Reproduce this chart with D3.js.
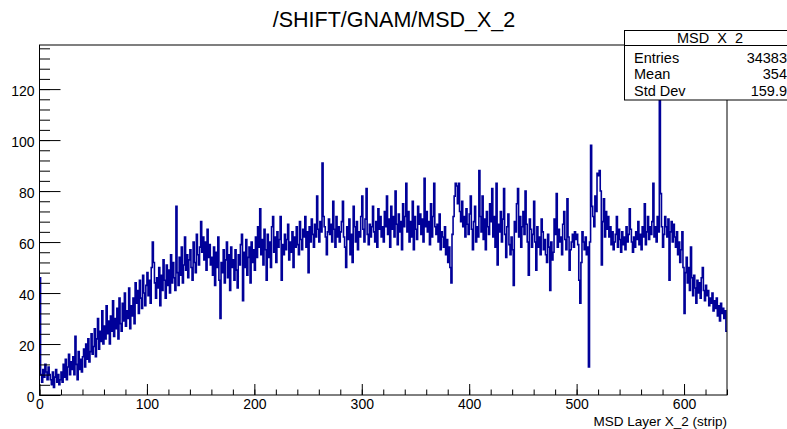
<!DOCTYPE html>
<html>
<head>
<meta charset="utf-8">
<script src="https://cdn.jsdelivr.net/npm/d3@7"></script>
<style>
  body { margin: 0; background: #fff; }
  svg { display: block; font-family: "Liberation Sans", Arial, Helvetica, sans-serif; }
</style>
</head>
<body>
<svg width="787" height="429"></svg>
<script>
// histogram title + axis
const histTitle = "/SHIFT/GNAM/MSD_X_2";
const xTitle = "MSD Layer X_2 (strip)";

// 640 strips, counts per strip
const counts = [
  46, 8, 5, 10, 7, 12, 9, 6, 11, 8,
  6, 4, 9, 3, 7, 10, 5, 8, 4, 6,
  9, 5, 12, 7, 14, 6, 11, 16, 8, 13,
  10, 15, 8, 23, 12, 6, 17, 10, 14, 9,
  15, 18, 11, 20, 14, 22, 13, 17, 24, 16,
  19, 26, 15, 22, 30, 18, 25, 21, 33, 20,
  27, 22, 35, 24, 29, 20, 31, 25, 37, 23,
  30, 26, 34, 22, 38, 28, 25, 36, 29, 40,
  27, 33, 30, 42, 26, 35, 31, 38, 28, 44,
  36, 41, 32, 45, 38, 34, 47, 40, 35, 43,
  48, 39, 45, 36, 50, 60, 52, 44, 38, 46,
  42, 50, 35, 47, 41, 53, 45, 38, 51, 43,
  49, 40, 55, 44, 52, 46, 41, 74, 48, 43,
  54, 47, 58, 44, 51, 62, 49, 55, 46, 53,
  57, 50, 45, 60, 52, 48, 63, 55, 51, 58,
  68, 56, 62, 53, 60, 49, 65, 54, 59, 51,
  54, 47, 58, 43, 56, 50, 62, 45, 30, 52,
  48, 57, 44, 53, 60, 46, 55, 41, 58, 50,
  53, 45, 57, 49, 42, 55, 51, 59, 63, 37,
  56, 50, 61, 47, 54, 58, 44, 60, 52, 57,
  49, 62, 54, 66, 58, 73, 55, 61, 51, 65,
  57, 45, 63, 54, 60, 50, 66, 70, 56, 62,
  52, 64, 58, 61, 70, 45, 59, 55, 63, 57,
  61, 67, 53, 60, 56, 64, 50, 62, 58, 66,
  59, 55, 68, 61, 57, 65, 62, 70, 58, 64,
  48, 66, 60, 69, 63, 58, 67, 62, 78, 65,
  60, 68, 64, 91, 70, 66, 62, 55, 64, 69,
  63, 67, 60, 76, 65, 58, 70, 62, 66, 60,
  64, 68, 76, 62, 58, 50, 66, 61, 69, 55,
  63, 52, 74, 66, 60, 68, 57, 64, 62, 70,
  78, 65, 60, 69, 81, 63, 59, 67, 62, 66,
  74, 64, 60, 68, 58, 73, 65, 70, 62, 66,
  60, 72, 66, 78, 63, 69, 58, 74, 65, 70,
  62, 80, 67, 59, 71, 64, 68, 57, 75, 66,
  70, 83, 64, 72, 60, 68, 62, 76, 57, 70,
  65, 61, 74, 67, 71, 63, 69, 60, 85, 66,
  72, 64, 68, 59, 75, 62, 70, 83, 66, 63,
  67, 60, 71, 57, 64, 62, 58, 66, 55, 61,
  52, 58, 50, 44, 63, 70, 78, 83, 82, 75,
  83, 72, 68, 76, 66, 70, 62, 73, 67, 63,
  71, 78, 65, 57, 68, 74, 60, 66, 62, 88,
  70, 64, 78, 61, 69, 57, 72, 66, 63, 75,
  68, 81, 62, 70, 58, 83, 51, 67, 64, 72,
  60, 69, 81, 63, 54, 66, 71, 59, 55, 62,
  57, 43, 68, 64, 75, 81, 62, 70, 58, 66,
  72, 63, 80, 67, 60, 47, 69, 65, 58, 63,
  76, 60, 49, 66, 58, 62, 55, 69, 64, 57,
  61, 55, 52, 63, 58, 41, 60, 53, 56, 69,
  63, 79, 58, 65, 60, 62, 55, 67, 72, 61,
  57, 77, 62, 49, 57, 60, 63, 58, 64, 61,
  63, 59, 45, 36, 52, 64, 60, 57, 62, 55,
  58, 11, 60, 98, 74, 70, 66, 78, 72, 87,
  86, 88, 80, 51, 68, 77, 62, 72, 65, 70,
  62, 66, 59, 64, 57, 60, 63, 70, 58, 65,
  61, 56, 64, 59, 62, 57, 66, 60, 63, 73,
  65, 60, 56, 62, 58, 64, 61, 68, 59, 63,
  57, 66, 62, 75, 59, 64, 70, 61, 66, 63,
  68, 83, 62, 66, 60, 70, 64, 130, 79, 66,
  58, 63, 70, 66, 62, 69, 45, 64, 68, 60,
  67, 62, 58, 64, 55, 60, 52, 57, 64, 50,
  32, 48, 54, 44, 50, 41, 58, 46, 39, 47,
  42, 36, 45, 40, 44, 38, 46, 50, 41, 37,
  43, 39, 41, 35, 38, 36, 40, 33, 37, 34,
  38, 31, 35, 29, 36, 32, 34, 30, 33, 25
];

const xMajor = [0, 100, 200, 300, 400, 500, 600];
const yMajor = [0, 20, 40, 60, 80, 100, 120];

// stats box
const statsName = "MSD_X_2";
const statLabels = ["Entries", "Mean", "Std Dev"];
const statValues = ["34383", "354", "159.9"];

const svg = d3.select("svg");

const frame = {left: 39.5, right: 727, top: 45, bottom: 395};
const x = d3.scaleLinear().domain([0, 640]).range([frame.left, frame.right]);
const y = d3.scaleLinear().domain([0, 137.3]).range([frame.bottom, frame.top]);

// title
svg.append("text")
   .attr("x", 394)
   .attr("y", 27)
   .attr("text-anchor", "middle")
   .style("font-size", "21.5px")
   .text(histTitle);

// histogram as a step line
const steps = counts.map((c, i) => [i, c]);
steps.push([counts.length, counts[counts.length - 1]]);

const line = d3.line()
   .x(d => x(d[0]))
   .y(d => y(d[1]))
   .curve(d3.curveStepAfter);

svg.append("path")
   .datum(steps)
   .attr("d", line)
   .attr("fill", "none")
   .attr("stroke", "#000099")
   .attr("stroke-width", 1.6);

// frame
svg.append("rect")
   .attr("x", frame.left)
   .attr("y", frame.top)
   .attr("width", frame.right - frame.left)
   .attr("height", frame.bottom - frame.top)
   .attr("fill", "none")
   .attr("stroke", "#000")
   .attr("stroke-width", 1);

// x axis, ticks pointing up
svg.append("g")
   .attr("transform", `translate(0,${frame.bottom})`)
   .call(d3.axisBottom(x).tickValues(d3.range(0, 641, 20)).tickSize(-5.5).tickFormat(""))
   .call(g => g.select(".domain").remove());

svg.append("g")
   .attr("transform", `translate(0,${frame.bottom})`)
   .call(d3.axisBottom(x).tickValues(xMajor).tickSize(-11).tickPadding(4).tickFormat(d3.format("d")))
   .call(g => g.select(".domain").remove())
   .call(g => g.selectAll("text").style("font-size", "14px").attr("fill", "#000").attr("y", 4));

// y axis, ticks pointing right
svg.append("g")
   .attr("transform", `translate(${frame.left},0)`)
   .call(d3.axisLeft(y).tickValues(d3.range(0, 137, 4)).tickSize(-10.5).tickFormat(""))
   .call(g => g.select(".domain").remove());

svg.append("g")
   .attr("transform", `translate(${frame.left},0)`)
   .call(d3.axisLeft(y).tickValues(yMajor).tickSize(-21).tickPadding(5).tickFormat(d3.format("d")))
   .call(g => g.select(".domain").remove())
   .call(g => g.selectAll("text").style("font-size", "14px").attr("fill", "#000").attr("dy", "0.45em"));

svg.selectAll(".tick line").attr("stroke", "#000");
svg.selectAll(".tick text").style("font-family", "'Liberation Sans', Arial, sans-serif");

// axis title
svg.append("text")
   .attr("x", frame.right)
   .attr("y", 426)
   .attr("text-anchor", "end")
   .style("font-size", "13.5px")
   .text(xTitle);

// stats box
const box = svg.append("g");
box.append("rect")
   .attr("x", 624.5).attr("y", 30.5)
   .attr("width", 172).attr("height", 69.5)
   .attr("fill", "#fff").attr("stroke", "#000");
box.append("line")
   .attr("x1", 624.5).attr("x2", 796)
   .attr("y1", 45.5).attr("y2", 45.5)
   .attr("stroke", "#000");
box.append("text")
   .attr("x", 710).attr("y", 43)
   .attr("text-anchor", "middle")
   .style("font-size", "14.5px")
   .text(statsName);

box.selectAll(".slabel")
   .data(statLabels)
   .enter().append("text")
   .attr("x", 634)
   .attr("y", (d, i) => 62.5 + i * 16.7)
   .style("font-size", "14.5px")
   .text(d => d);

box.selectAll(".svalue")
   .data(statValues)
   .enter().append("text")
   .attr("x", 787)
   .attr("y", (d, i) => 62.5 + i * 16.7)
   .attr("text-anchor", "end")
   .style("font-size", "14.5px")
   .text(d => d);
</script>
</body>
</html>
